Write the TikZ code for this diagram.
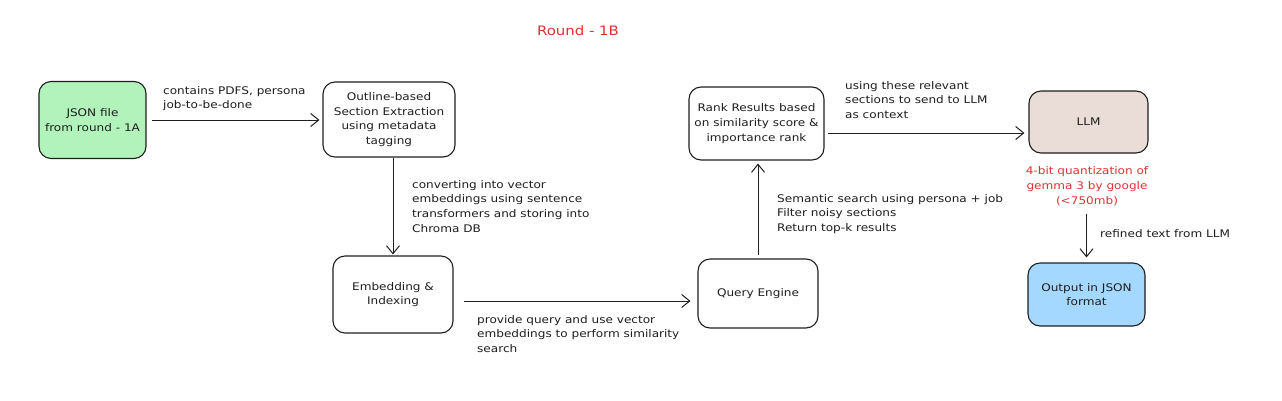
\documentclass[tikz,border=0pt]{standalone}
\usepackage{fontspec}
\setmainfont{DejaVu Sans}[FakeStretch=1.15]
\usetikzlibrary{arrows.meta}
\definecolor{ink}{HTML}{1E1E1E}
\definecolor{fgreen}{HTML}{B2F2BB}
\definecolor{fbrown}{HTML}{EADDD7}
\definecolor{fblue}{HTML}{A5D8FF}
\definecolor{nred}{HTML}{E03131}
\tikzset{
  box/.style={draw=ink, line width=1.1pt, rounded corners=12pt, align=center,
    text=ink, font=\fontsize{10.5}{14.8}\selectfont, inner sep=2pt},
  lbl/.style={anchor=north west, align=left, inner sep=0pt, text=ink,
    font=\fontsize{10.5}{14.8}\selectfont},
  conn/.style={draw=ink, line width=1pt, -{Straight Barb[length=8pt,width=13pt,line width=1pt]}},
}
\begin{document}
\begin{tikzpicture}[x=1pt,y=-1pt]
\useasboundingbox (0,0) rectangle (1282,400);
\node[text=nred, font=\fontsize{13}{16}\selectfont] (title) at (578,31) {Round - 1B};

\node[box, fill=fgreen, minimum width=107pt, minimum height=77pt] (json) at (92.5,120) {JSON file\\from round - 1A};
\node[box, minimum width=132pt, minimum height=75pt] (outline) at (389,119.5) {Outline-based\\Section Extraction\\using metadata\\tagging};
\node[box, minimum width=120pt, minimum height=77pt] (emb) at (393,294.5) {Embedding \&\\Indexing};
\node[box, minimum width=120pt, minimum height=69pt] (query) at (758,293.5) {Query Engine};
\node[box, minimum width=135pt, minimum height=73pt] (rank) at (756.5,123.5) {Rank Results based\\on similarity score \&\\importance rank};
\node[box, fill=fbrown, minimum width=119pt, minimum height=62pt] (llm) at (1088.5,122) {LLM};
\node[box, fill=fblue, minimum width=117pt, minimum height=63pt] (out) at (1086.5,294.5) {Output in JSON\\format};

\node[text=nred, align=center, inner sep=0pt, font=\fontsize{10.5}{14.8}\selectfont] (quant) at (1087,186) {4-bit quantization of\\gemma 3 by google\\(<750mb)};

\draw[conn, shorten <=5pt, shorten >=3pt] (json.east) -- (json.east -| outline.west);
\draw[conn, shorten >=1pt] (outline.south -| emb.north) -- (emb.north);
\draw[conn, shorten <=10pt, shorten >=7pt] ([yshift=-6.5pt]emb.east) -- ([yshift=-6.5pt]emb.east -| query.west);
\draw[conn, shorten <=3pt, shorten >=3pt] (query.north) -- (query.north |- rank.south);
\draw[conn, shorten <=3pt, shorten >=4pt] ([yshift=-9.5pt]rank.east) -- ([yshift=-9.5pt]rank.east -| llm.west);
\draw[conn, shorten <=8pt, shorten >=5pt] (quant.south -| out.north) -- (out.north);

\node[lbl] (l1) at (163,86) {contains PDFS, persona\\job-to-be-done};
\node[lbl] (l2) at (412,180) {converting into vector\\embeddings using sentence\\transformers and storing into\\Chroma DB};
\node[lbl] (l3) at (477,315) {provide query and use vector\\embeddings to perform similarity\\search};
\node[lbl] (l4) at (777,194) {Semantic search using persona + job\\Filter noisy sections\\Return top-k results};
\node[lbl] (l5) at (845,81) {using these relevant\\sections to send to LLM\\as context};
\node[lbl] (l6) at (1100,229) {refined text from LLM};
\end{tikzpicture}
\end{document}
